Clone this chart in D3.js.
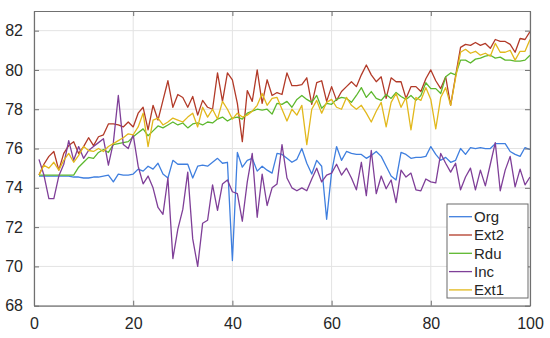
<!DOCTYPE html>
<html>
  <head>
    <script src="https://d3js.org/d3.v7.min.js"></script>
    <style>
      body { margin: 0; background: #fff; }
      text { font-family: "Liberation Sans", Arial, sans-serif; fill: #262626; }
    </style>
  </head>
  <body>
    <svg class="chart" width="550" height="338"></svg>
  <script>

    // series names and colours
    var names = ["Org", "Ext2", "Rdu", "Inc", "Ext1"];
    var colors = ["#3f7fdf", "#b23a28", "#5db82e", "#7f3f98", "#e2b81c"];

    var xTicks = [0, 20, 40, 60, 80, 100];
    var yTicks = [68, 70, 72, 74, 76, 78, 80, 82];

    var org = [74.6, 74.6, 74.6, 74.6, 74.6, 74.6, 74.6, 74.55, 74.55, 74.5,
      74.5, 74.55, 74.55, 74.6, 74.65, 74.3, 74.7, 74.65, 74.65, 74.7,
      74.95, 74.85, 75.1, 74.95, 75.25, 74.7, 74.5, 75.4, 75.2, 75.2,
      75.2, 74.5, 75.1, 75.15, 75.1, 75.3, 75.5, 75.25, 75.3, 70.3,
      75.8, 75.05, 75.4, 75.5, 74.85, 75.1, 74.9, 74.75, 75.75, 75.7,
      75.5, 75.3, 75.45, 76.0, 75.25, 74.7, 75.4, 75.1, 72.4, 74.8,
      76.1, 75.4, 75.85, 75.75, 75.7, 75.7, 75.5, 75.65, 75.85, 75.6,
      75.1, 74.6, 74.4, 75.8, 75.7, 75.5, 75.55, 75.55, 75.6, 76.1,
      75.7, 75.4, 75.55, 75.3, 75.4, 76.0, 75.7, 76.05, 76.0, 76.05,
      76.0, 76.0, 76.25, 76.25, 76.25, 75.85, 75.7, 75.6, 76.05, 75.95];

    var ext2 = [74.65, 75.2, 75.6, 75.85, 74.9, 75.75, 76.15, 76.35, 75.75, 76.1,
      76.55, 76.15, 76.6, 76.7, 77.25, 77.25, 77.2, 77.1, 77.35, 77.1,
      77.8, 78.1, 76.95, 78.2, 77.45, 78.45, 79.45, 78.1, 78.75, 78.6,
      78.1, 78.65, 77.7, 78.45, 78.1, 78.0, 79.85, 78.4, 79.85, 79.5,
      78.3, 76.35, 78.95, 78.4, 80.0, 78.3, 79.5, 78.7, 78.85, 78.75,
      79.85, 79.2, 79.2, 79.25, 79.6, 78.25, 79.35, 79.45, 78.4, 79.15,
      78.45, 78.9, 79.15, 79.4, 79.15, 79.75, 80.25, 79.75, 79.4, 79.65,
      78.55, 79.6, 79.4, 79.4, 78.55, 79.15, 79.15, 78.9, 79.55, 80.0,
      79.45, 79.05, 79.65, 78.2, 79.7, 81.15, 81.3, 81.25, 81.4, 81.25,
      81.35, 81.1, 81.55, 81.45, 81.45, 81.3, 80.9, 81.6, 81.55, 81.95];

    var rdu = [74.65, 74.65, 74.65, 74.65, 74.65, 74.65, 74.65, 74.65, 75.05, 75.3,
      75.55, 75.5, 75.8, 75.95, 75.8, 76.2, 76.25, 76.3, 76.35, 76.6,
      76.8, 77.0, 76.65, 76.9, 77.15, 77.05, 77.2, 77.35, 77.2, 77.3,
      77.05, 77.25, 77.3, 77.2, 77.35, 77.3, 77.5, 77.6, 77.4, 77.55,
      77.6, 77.5, 77.8, 77.9, 78.0, 77.95, 78.0, 77.75, 78.3, 78.25,
      78.4, 78.1, 78.5, 78.7, 78.5, 78.35, 78.7, 78.05, 78.3, 78.25,
      78.5, 78.6, 78.55, 78.35, 78.7, 79.1, 78.6, 78.9, 78.55, 78.45,
      78.75, 78.55, 78.85, 78.65, 78.5, 78.7, 78.45, 78.7, 79.35, 79.05,
      79.05, 78.8, 79.65, 79.85, 79.75, 80.5, 80.5, 80.35, 80.55, 80.6,
      80.7, 80.75, 80.6, 80.65, 80.5, 80.5, 80.45, 80.45, 80.5, 80.75];

    var inc = [75.45, 74.65, 73.45, 73.45, 74.6, 75.2, 76.4, 75.4, 76.1, 75.5,
      75.9, 76.1, 76.3, 76.5, 75.15, 76.3, 78.7, 76.2, 76.0, 76.7,
      75.1, 74.2, 74.6, 74.0, 73.0, 72.65, 74.5, 70.4, 71.9, 72.9,
      74.8, 71.4, 70.0, 72.2, 72.35, 74.15, 72.85, 74.2, 74.4, 73.8,
      73.7, 72.3, 74.3, 75.75, 72.5, 74.7, 73.1, 74.0, 74.2, 76.2,
      74.5, 74.0, 73.85, 74.0, 73.85, 74.45, 75.0, 74.3, 74.65, 74.75,
      75.2, 74.65, 75.0, 74.5, 73.9, 75.3, 73.6, 75.9, 73.7, 74.6,
      73.95, 74.4, 73.25, 74.9, 74.55, 74.75, 73.9, 73.85, 74.45, 74.3,
      74.25, 75.75, 75.25, 74.8, 75.25, 73.9, 74.55, 75.0, 73.9, 74.9,
      74.1, 75.2, 76.3, 73.85, 74.9, 75.6, 74.05, 74.95, 74.15, 74.55];

    var ext1 = [74.65, 75.15, 75.0, 75.3, 74.9, 75.4, 75.75, 75.3, 75.65, 76.1,
      75.9, 75.85, 76.0, 75.85, 76.1, 76.25, 76.4, 76.55, 76.75, 76.7,
      77.1, 77.8, 76.1, 77.45, 77.55, 77.2, 77.35, 77.55, 77.45, 77.35,
      77.6, 77.8, 77.1, 78.1, 77.6, 78.0, 77.5, 78.4, 78.0, 77.5,
      77.8, 77.6, 77.7, 77.9, 78.2, 78.8, 78.2, 78.55, 78.6, 78.0,
      77.4, 78.0, 77.7, 78.2, 76.2, 78.0, 78.45, 77.8, 78.35, 78.5,
      78.1, 78.0, 78.6, 78.2, 78.0, 78.2, 77.8, 77.35, 77.9, 78.35,
      77.1, 78.35, 78.8, 78.1, 78.6, 76.95, 78.6, 78.45, 79.1, 78.5,
      77.0, 78.6, 79.1, 78.2, 79.6, 80.9, 81.05, 80.85, 80.95, 80.75,
      80.85, 80.7, 81.35, 80.9, 80.9, 81.0, 80.5, 80.95, 80.95, 81.55];

    var series = [org, ext2, rdu, inc, ext1];

    var plotLeft = 34, plotRight = 530, plotTop = 11, plotBottom = 305.7;
    var svg = d3.select(".chart");

    var x = d3.scaleLinear().domain([0, 100]).range([plotLeft, plotRight]);
    var y = d3.scaleLinear().domain([68, 83]).range([plotBottom, plotTop]);

    // grid
    svg.append("g").selectAll("line").data(xTicks).enter().append("line")
      .attr("x1", d => x(d)).attr("x2", d => x(d))
      .attr("y1", plotTop).attr("y2", plotBottom)
      .attr("stroke", "#e3e3e3").attr("stroke-width", 1);
    svg.append("g").selectAll("line").data(yTicks).enter().append("line")
      .attr("x1", plotLeft).attr("x2", plotRight)
      .attr("y1", d => y(d)).attr("y2", d => y(d))
      .attr("stroke", "#e3e3e3").attr("stroke-width", 1);

    // lines
    var line = d3.line()
      .x((d, i) => x(i + 1))
      .y(d => y(d));

    svg.append("g").selectAll("path").data(series).enter().append("path")
      .attr("d", d => line(d))
      .attr("fill", "none")
      .attr("stroke", (d, i) => colors[i])
      .attr("stroke-width", 1.3)
      .attr("stroke-linejoin", "round");

    // axes, MATLAB style box with inward ticks
    var xAxis = d3.axisBottom(x).tickValues(xTicks).tickSizeInner(-5).tickSizeOuter(0).tickPadding(12);
    var yAxis = d3.axisLeft(y).tickValues(yTicks).tickSizeInner(-5).tickSizeOuter(0).tickPadding(11);
    var xTop = d3.axisTop(x).tickValues(xTicks).tickSizeInner(-5).tickSizeOuter(0).tickFormat("");
    var yRight = d3.axisRight(y).tickValues(yTicks).tickSizeInner(-5).tickSizeOuter(0).tickFormat("");

    function styleAxis(g) {
      g.select(".domain").attr("stroke", "#707070").attr("stroke-width", 1.2);
      g.selectAll(".tick line").attr("stroke", "#707070");
      g.selectAll("text").attr("font-size", "16px")
        .attr("font-family", "'Liberation Sans', Arial, sans-serif").attr("fill", "#262626");
    }

    svg.append("g").attr("transform", "translate(0," + plotBottom + ")").call(xAxis).call(styleAxis);
    svg.append("g").attr("transform", "translate(" + plotLeft + ",0)").call(yAxis).call(styleAxis);
    svg.append("g").attr("transform", "translate(0," + plotTop + ")").call(xTop).call(styleAxis);
    svg.append("g").attr("transform", "translate(" + plotRight + ",0)").call(yRight).call(styleAxis);

    // legend
    var lg = svg.append("g").attr("transform", "translate(447,204)");
    lg.append("rect")
      .attr("width", 81).attr("height", 94)
      .attr("fill", "#fff").attr("stroke", "#6a6a6a").attr("stroke-width", 1);

    var item = lg.selectAll(".item").data(names).enter().append("g")
      .attr("class", "item")
      .attr("transform", (d, i) => "translate(0," + (12.7 + i * 18.3) + ")");
    item.append("line")
      .attr("x1", 2).attr("x2", 25)
      .attr("stroke", (d, i) => colors[i]).attr("stroke-width", 1.3);
    item.append("text")
      .attr("x", 27).attr("dy", "0.36em")
      .attr("font-size", "15px")
      .text(d => d);

  </script>
  </body>
</html>
